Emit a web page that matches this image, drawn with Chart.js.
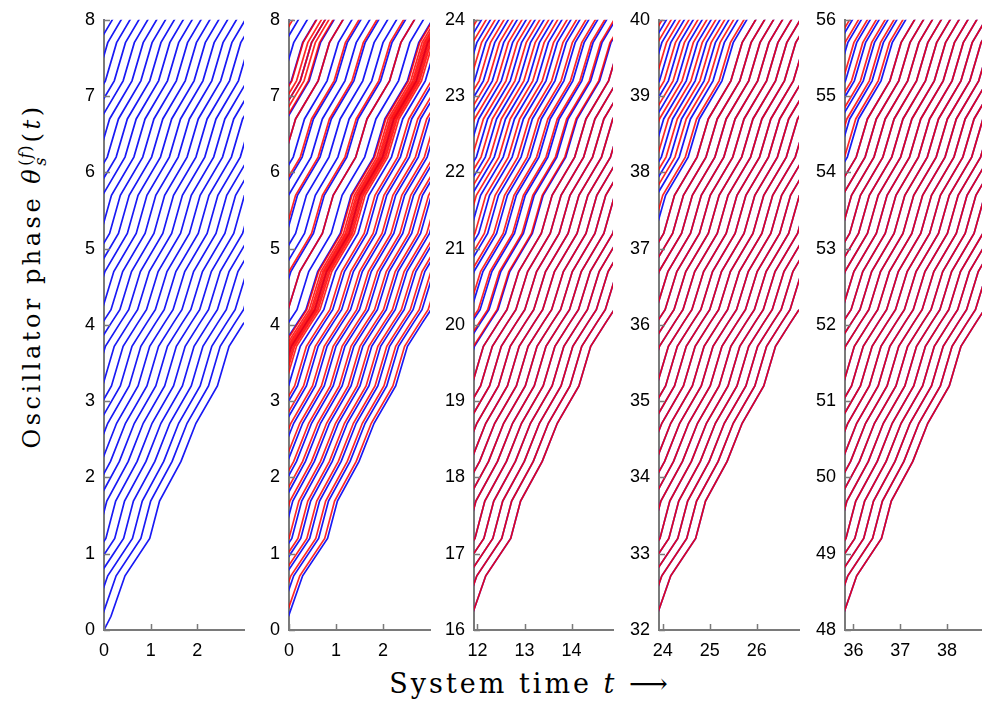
<!DOCTYPE html>
<html><head><meta charset="utf-8">
<script src="https://cdn.jsdelivr.net/npm/chart.js@4.4.0/dist/chart.umd.min.js"></script>
<style>
html,body{margin:0;padding:0;background:#fff;}
body{width:982px;height:706px;position:relative;overflow:hidden;}
.panel{position:absolute;top:0;}
#ytitle{position:absolute;left:33px;top:276px;transform:translate(-50%,-50%) rotate(-90deg);white-space:nowrap;
  font-family:"DejaVu Serif",serif;font-size:24px;letter-spacing:3.5px;color:#000;}
#xtitle{position:absolute;left:530px;top:683px;transform:translate(-50%,-50%);white-space:nowrap;
  font-family:"DejaVu Serif",serif;font-size:27px;letter-spacing:3px;color:#000;}
.ss{display:inline-block;vertical-align:middle;line-height:0.9;font-size:16px;text-align:left;margin-right:2px;letter-spacing:1px;}
.ss span{display:block;}
</style></head><body>
<div id="ytitle">Oscillator phase <i>θ</i><span class="ss"><span>(<i>f</i>)</span><span><i>s</i></span></span>(<i>t</i>)</div>
<div id="xtitle">System time <i>t</i> ⟶</div>
<div id="p1" class="panel"><canvas></canvas></div>
<div id="p2" class="panel"><canvas></canvas></div>
<div id="p3" class="panel"><canvas></canvas></div>
<div id="p4" class="panel"><canvas></canvas></div>
<div id="p5" class="panel"><canvas></canvas></div>
<script>
// ---- common trajectory shape (time from panel start, phase above panel minimum)
const shapeT = [0, 0.15, 0.45, 0.98, 1.19, 1.65, 1.97, 2.43, 2.68, 3.00, 3.18, 3.43, 3.91, 4.14, 4.62, 4.86, 5.34, 5.58, 6.06, 6.30, 6.78];
const shapeY = [0, 0.18, 0.71, 1.20, 1.69, 2.21, 2.71, 3.20, 3.72, 4.03, 4.20, 4.70, 5.20, 5.70, 6.20, 6.70, 7.20, 7.70, 8.20, 8.70, 9.20];

// ---- per-line time lags (how far along the shape each oscillator is at the panel start)
const p1Blue = [0, 0.19, 0.37, 0.56, 0.75, 0.94, 1.13, 1.32, 1.51, 1.70, 1.89, 2.08, 2.27, 2.46, 2.65, 2.84, 3.03, 3.22, 3.41, 3.60, 3.79, 3.98, 4.17, 4.36, 4.55, 4.74, 4.93, 5.12, 5.31, 5.50, 5.69, 5.88];
const p2Blue = [0.16, 0.35, 0.54, 0.73, 0.92, 1.11, 1.30, 1.49, 1.68, 1.87, 2.06, 2.25, 2.44, 2.63, 2.82, 3.01, 3.20, 3.39, 3.58, 3.77, 3.96, 4.15, 4.34, 4.53, 4.72, 4.91, 5.10, 5.29, 5.48, 5.67, 5.86, 6.05];
const p2Red  = [0.22, 0.41, 0.60, 0.79, 0.98, 1.17, 1.36, 1.55, 1.74, 1.93, 2.12, 2.31,
                2.52, 2.56, 2.59, 2.62, 2.65, 2.68, 2.71, 2.75, 2.80,
                3.20, 3.43, 4.00, 4.38, 4.72,
                4.93, 5.02, 5.10, 5.18, 5.28, 5.79];
const p3Blue = [0.20, 0.39, 0.58, 0.77, 0.96, 1.15, 1.34, 1.53, 1.72, 1.91, 2.10, 2.29, 2.48, 2.67, 2.86, 3.05, 3.24, 3.43, 3.62, 3.81, 4.00, 4.19, 4.38, 4.57, 4.76, 4.95, 5.14, 5.33, 5.52, 5.71, 5.90];
const p3Red  = [0.20, 0.39, 0.58, 0.77, 0.96, 1.15, 1.34, 1.53, 1.72, 1.91, 2.10, 2.29, 2.48, 2.69, 2.89, 3.09, 3.29, 3.49, 3.69, 3.89, 4.09, 4.28, 4.47, 4.66, 4.85, 5.04, 5.23, 5.42, 5.61, 5.80, 5.99];
const p4Blue = [0.20, 0.39, 0.58, 0.77, 0.96, 1.15, 1.34, 1.53, 1.72, 1.91, 2.10, 2.29, 2.48, 2.67, 2.86, 3.05, 3.24, 3.43, 3.62, 3.81, 4.00, 4.19, 4.38, 4.57, 4.76, 4.95, 5.14, 5.33, 5.52, 5.71, 5.90];
const p4Red  = [0.20, 0.39, 0.58, 0.77, 0.96, 1.15, 1.34, 1.53, 1.72, 1.91, 2.10, 2.29, 2.48, 2.67, 2.86, 3.05, 3.24, 3.43, 3.62, 3.81, 4.06, 4.28, 4.47, 4.66, 4.85, 5.04, 5.23, 5.42, 5.61, 5.80, 5.99];
const p5Blue = [0.20, 0.39, 0.58, 0.77, 0.96, 1.15, 1.34, 1.53, 1.72, 1.91, 2.10, 2.29, 2.48, 2.67, 2.86, 3.05, 3.24, 3.43, 3.62, 3.81, 4.00, 4.19, 4.38, 4.57, 4.76, 4.95, 5.14, 5.33, 5.52, 5.71, 5.90];
const p5Red  = [0.20, 0.39, 0.58, 0.77, 0.96, 1.15, 1.34, 1.53, 1.72, 1.91, 2.10, 2.29, 2.48, 2.67, 2.86, 3.05, 3.24, 3.43, 3.62, 3.81, 4.00, 4.19, 4.38, 4.63, 4.82, 5.01, 5.20, 5.39, 5.58, 5.77, 5.96];

// ---- axis ranges and tick labels
const xRanges = [[0, 3.0], [0, 3.0], [11.926, 14.88], [23.92, 26.90], [35.82, 38.75]];
const yRanges = [[0, 8], [0, 8], [16, 24], [32, 40], [48, 56]];
const xTicks = [[0, 1, 2], [0, 1, 2], [12, 13, 14], [24, 25, 26], [36, 37, 38]];
const yTicks = [[0,1,2,3,4,5,6,7,8], [0,1,2,3,4,5,6,7,8], [16,17,18,19,20,21,22,23,24], [32,33,34,35,36,37,38,39,40], [48,49,50,51,52,53,54,55,56]];

// ---- layout (pixels)
const areaLeft = [104, 289, 474, 659, 845];
const areaWidth = [140, 141, 139, 140, 137];
const Y_AXIS_W = 45, X_AXIS_H = 42, TOP = 14, AREA_H = 616;

const BLUE = 'rgb(25,25,245)';
const RED = 'rgba(255,0,0,0.85)';
const AXIS = '#7a7a7a';

const innerTicks = {
  id: 'innerTicks',
  afterDraw(chart) {
    const ctx = chart.ctx, a = chart.chartArea;
    const xs = chart.scales.x, ys = chart.scales.y;
    ctx.save();
    ctx.strokeStyle = AXIS; ctx.lineWidth = 1.5;
    ctx.beginPath();
    xs.ticks.forEach(t => { const p = Math.round(xs.getPixelForValue(t.value)) + 0.5; ctx.moveTo(p, a.bottom); ctx.lineTo(p, a.bottom - 6); });
    ys.ticks.forEach(t => { const p = Math.round(ys.getPixelForValue(t.value)) + 0.5; ctx.moveTo(a.left, p); ctx.lineTo(a.left + 6, p); });
    ctx.stroke();
    ctx.restore();
  }
};

function lineData(lag, i) {
  const x0 = xRanges[i][0], y0 = yRanges[i][0];
  return shapeT.map((t, k) => ({ x: x0 + t - lag, y: y0 + shapeY[k] }));
}

function build(i, blue, red) {
  const el = document.getElementById('p' + (i + 1));
  const left = areaLeft[i] - Y_AXIS_W;
  const padR = i === 4 ? 0 : 6;
  el.style.left = left + 'px';
  el.style.width = (Y_AXIS_W + areaWidth[i] + padR) + 'px';
  el.style.height = (TOP + AREA_H + X_AXIS_H) + 'px';
  const datasets = [];
  blue.forEach(l => datasets.push({ data: lineData(l, i), borderColor: BLUE, borderWidth: 1.7, pointRadius: 0, tension: 0, order: 2, clip: 0 }));
  red.forEach(l => datasets.push({ data: lineData(l, i), borderColor: RED, borderWidth: 1.7, pointRadius: 0, tension: 0, order: 1, clip: 0 }));
  new Chart(el.querySelector('canvas'), {
    type: 'line',
    data: { datasets },
    plugins: [innerTicks],
    options: {
      responsive: true, maintainAspectRatio: false, animation: false,
      layout: { padding: { top: TOP, right: padR, left: 0, bottom: 0 } },
      plugins: { legend: { display: false }, tooltip: { enabled: false } },
      scales: {
        x: {
          type: 'linear', min: xRanges[i][0], max: xRanges[i][1],
          afterBuildTicks: s => { s.ticks = xTicks[i].map(v => ({ value: v })); },
          afterFit: s => { s.height = X_AXIS_H; },
          grid: { display: false, drawTicks: false },
          border: { display: true, color: AXIS, width: 2 },
          ticks: { color: '#000', padding: 10, maxRotation: 0, autoSkip: false, font: { family: 'Liberation Sans', size: 18 } }
        },
        y: {
          type: 'linear', min: yRanges[i][0], max: yRanges[i][1],
          afterBuildTicks: s => { s.ticks = yTicks[i].map(v => ({ value: v })); },
          afterFit: s => { s.width = Y_AXIS_W; },
          grid: { display: false, drawTicks: false },
          border: { display: true, color: AXIS, width: 2 },
          ticks: { color: '#000', padding: 9, autoSkip: false, font: { family: 'Liberation Sans', size: 18 } }
        }
      }
    }
  });
}

build(0, p1Blue, []);
build(1, p2Blue, p2Red);
build(2, p3Blue, p3Red);
build(3, p4Blue, p4Red);
build(4, p5Blue, p5Red);
</script>
</body></html>
